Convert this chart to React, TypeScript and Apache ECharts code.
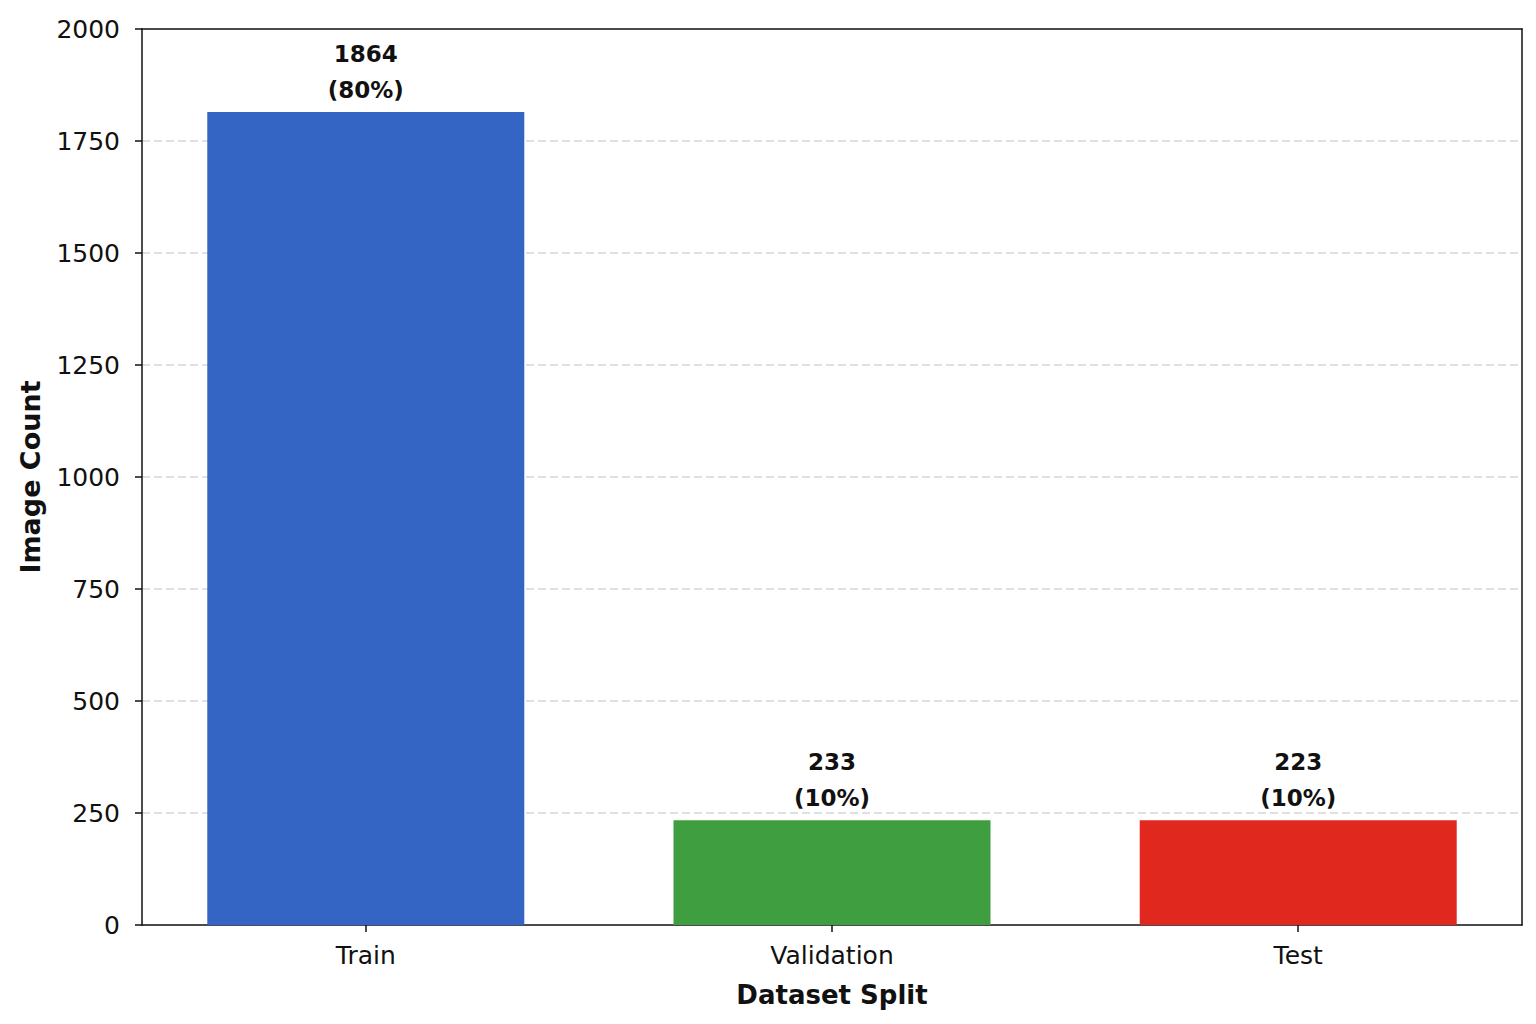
import React, { useEffect, useRef } from "react";
import * as echarts from "echarts";

const categories = ["Train", "Validation", "Test"];
const barValues = [1815, 234, 234];
const labelCounts = [1864, 233, 223];
const labelPercents = ["80%", "10%", "10%"];
const barColors = ["#3465c4", "#3f9e3f", "#e0281f"];
const yTicks = [0, 250, 500, 750, 1000, 1250, 1500, 1750, 2000];

const FONT = "DejaVu Sans";
const SPINE = { color: "#111", width: 1.5 };

export default function App() {
  const ref = useRef<HTMLDivElement>(null);
  useEffect(() => {
    if (!ref.current) return;
    const chart = echarts.init(ref.current, undefined, { renderer: "svg" });
    const data = categories.map((_, i) => ({
      value: [i, barValues[i]],
      itemStyle: { color: barColors[i] },
    }));
    const catIdx = categories.map((_, i) => i);
    chart.setOption({
      animation: false,
      backgroundColor: "#ffffff",
      grid: {
        left: 142,
        right: 14,
        top: 29,
        bottom: 99,
        show: false,
        containLabel: false,
      },
      xAxis: [
        {
          type: "value",
          min: -0.48,
          max: 2.48,
          position: "bottom",
          splitLine: { show: false },
          axisLine: { show: true, onZero: false, lineStyle: SPINE },
          axisTick: {
            show: true,
            customValues: catIdx,
            length: 7,
            lineStyle: SPINE,
          },
          axisLabel: {
            customValues: catIdx,
            formatter: (v: number) => categories[Math.round(v)] ?? "",
            fontFamily: FONT,
            fontSize: 25,
            color: "#111",
            margin: 18,
          },
          name: "Dataset Split",
          nameLocation: "middle",
          nameGap: 57,
          nameTextStyle: { fontFamily: FONT, fontSize: 26, fontWeight: "bold", color: "#111" },
        },
        {
          type: "value",
          min: -0.48,
          max: 2.48,
          position: "top",
          splitLine: { show: false },
          axisLine: { show: true, onZero: false, lineStyle: SPINE },
          axisTick: { show: false },
          axisLabel: { show: false },
        },
      ],
      yAxis: [
        {
          type: "value",
          min: 0,
          max: 2000,
          interval: 250,
          position: "left",
          axisLine: { show: true, onZero: false, lineStyle: SPINE },
          axisTick: { show: true, length: 7, lineStyle: SPINE },
          axisLabel: {
            fontFamily: FONT,
            fontSize: 25,
            color: "#111",
            margin: 22,
            formatter: (v: number) => (yTicks.includes(v) ? String(v) : ""),
          },
          splitLine: {
            show: true,
            showMinLine: false,
            showMaxLine: false,
            lineStyle: { color: "#d6d6d6", type: [8, 4], width: 1.5 },
          },
          name: "Image Count",
          nameLocation: "middle",
          nameGap: 98,
          nameTextStyle: { fontFamily: FONT, fontSize: 27, fontWeight: "bold", color: "#111" },
        },
        {
          type: "value",
          min: 0,
          max: 2000,
          interval: 250,
          position: "right",
          axisLine: { show: true, onZero: false, lineStyle: SPINE },
          axisTick: { show: false },
          axisLabel: { show: false },
          splitLine: { show: false },
        },
      ],
      series: [
        {
          type: "bar",
          xAxisIndex: 0,
          yAxisIndex: 0,
          data,
          barWidth: 317,
          z: 3,
          label: {
            show: true,
            position: "top",
            distance: 4,
            fontFamily: FONT,
            fontSize: 23,
            fontWeight: "bold",
            color: "#111",
            lineHeight: 36,
            formatter: (p: any) => `${labelCounts[p.dataIndex]}\n(${labelPercents[p.dataIndex]})`,
          },
        },
      ],
    });
    return () => chart.dispose();
  }, []);
  return (
    <div
      ref={ref}
      style={{ position: "fixed", left: 0, top: 0, width: 1536, height: 1024 }}
    />
  );
}
